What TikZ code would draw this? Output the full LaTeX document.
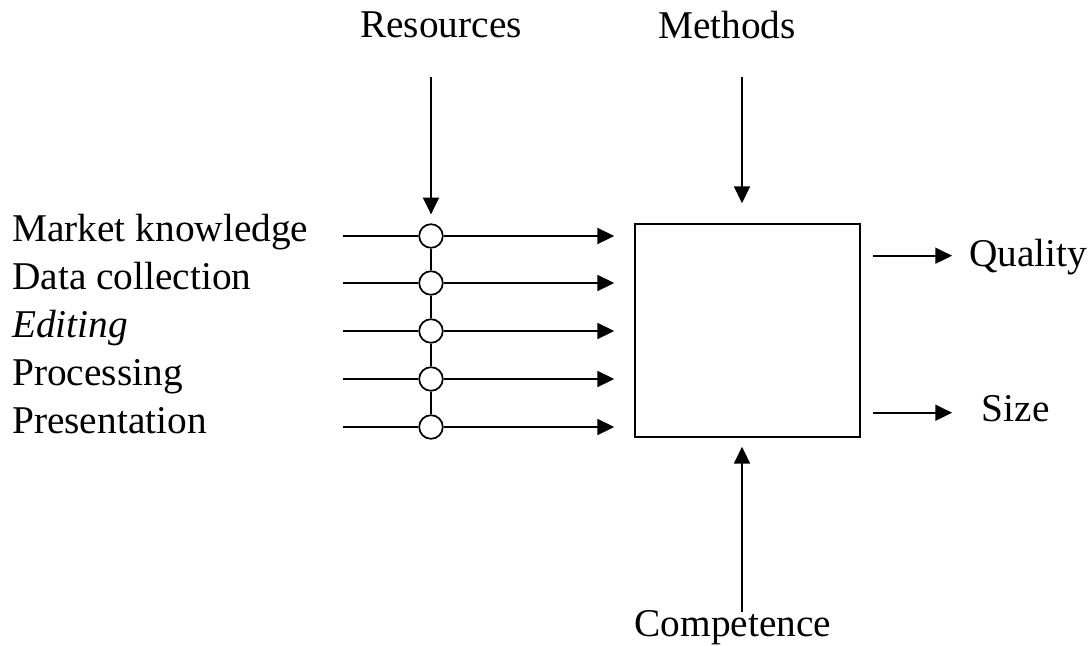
\documentclass[tikz,border=0pt]{standalone}
\usepackage{fontspec}
\setmainfont{Liberation Serif}
\usetikzlibrary{arrows.meta}
\begin{document}
\begin{tikzpicture}[x=0.75pt,y=-0.75pt,
  lbl/.style={font=\fontsize{29.5}{35}\selectfont, inner sep=0pt, anchor=base west},
  ctr/.style={font=\fontsize{29.5}{35}\selectfont, inner sep=0pt, anchor=base},
  joint/.style={circle, draw, fill=white, minimum size=17.7pt, inner sep=0pt, line width=1.3pt},
  proc/.style={draw, line width=1.3pt, minimum width=168.75pt, minimum height=159.75pt, inner sep=0pt},
  flow/.style={line width=1.3pt, -{Triangle[length=12.5pt,width=12pt]}},
  plain/.style={line width=1.3pt}]
\useasboundingbox (0,0) rectangle (1090,646);

% labels
\node[lbl] (mk) at (12,241.3) {Market knowledge};
\node[lbl] (dc) at (12,289.5) {Data collection};
\node[lbl] (ed) at (12,337.5) {\itshape Editing};
\node[lbl] (pr) at (12,385.5) {Processing};
\node[lbl] (pt) at (12,433) {Presentation};
\node[ctr] (res) at (441,37) {Resources};
\node[ctr] (met) at (727,38) {Methods};
\node[ctr] (com) at (733,636) {Competence};
\node[lbl] (qua) at (969,266) {Quality};
\node[lbl] (siz) at (981.5,421.5) {Size};

% box
\node[proc] (box) at (747.5,330.5) {};

% line starts
\coordinate (l1) at (343,236);
\coordinate (l2) at (343,283);
\coordinate (l3) at (343,331);
\coordinate (l4) at (343,379);
\coordinate (l5) at (343,427);

% joints
\node[joint] (c1) at (431,236) {};
\node[joint] (c2) at (431,283) {};
\node[joint] (c3) at (431,331) {};
\node[joint] (c4) at (431,379) {};
\node[joint] (c5) at (431,427) {};

\draw[plain] (c1.south) -- (c2.north);
\draw[plain] (c2.south) -- (c3.north);
\draw[plain] (c3.south) -- (c4.north);
\draw[plain] (c4.south) -- (c5.north);

\foreach \i in {1,...,5}{
  \draw[plain] (l\i) -- (c\i.west);
  \draw[flow, shorten >=15pt] (c\i.east) -- (box.west |- c\i);
}

% top and bottom inputs
\coordinate (rs) at (431,77);
\draw[flow, shorten >=6.75pt] (rs) -- (c1.north);
\coordinate (ms) at (742,77);
\draw[flow, shorten >=15pt] (ms) -- (ms |- box.north);
\coordinate (cs) at (742,612);
\draw[flow, shorten >=6.75pt] (cs) -- (cs |- box.south);

% outputs
\coordinate (qa) at (873,255.7);
\coordinate (qb) at (952,255.7);
\coordinate (sa) at (873,412.7);
\coordinate (sb) at (952,412.7);
\draw[flow] (qa) -- (qb);
\draw[flow] (sa) -- (sb);
\end{tikzpicture}
\end{document}
